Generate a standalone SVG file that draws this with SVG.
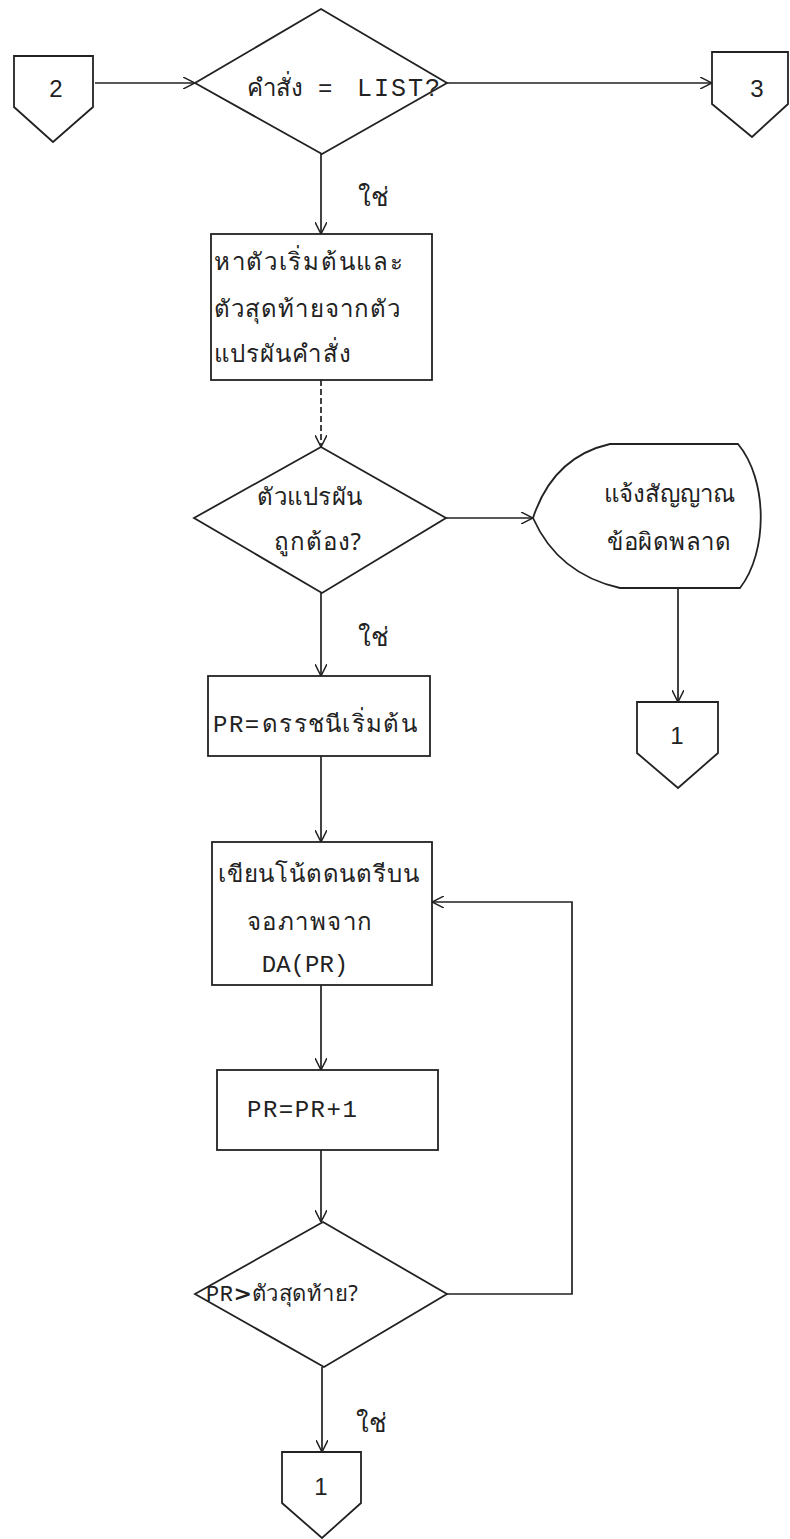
<svg xmlns="http://www.w3.org/2000/svg" width="790" height="1539" viewBox="0 0 790 1539">
<style>
.s{fill:none;stroke:#222;stroke-width:1.7}
.n{fill:#fff;stroke:#222;stroke-width:1.8}
.th{font-family:"Noto Sans","DejaVu Sans",sans-serif;font-size:24px;fill:#222;letter-spacing:1.3px}
.yes{font-family:"Noto Sans","DejaVu Sans",sans-serif;font-size:26px;fill:#222}
.mono{font-family:"Liberation Mono","DejaVu Sans Mono",monospace;font-size:24px;fill:#222;letter-spacing:1.5px}
.num{font-family:"Liberation Sans",Arial,sans-serif;font-size:24px;fill:#222}
</style>
<defs>
<marker id="ah" viewBox="0 0 12 12" refX="12" refY="6" markerWidth="12" markerHeight="12" markerUnits="userSpaceOnUse" orient="auto">
<path d="M0,0 L12,6 L0,12" fill="none" stroke="#222" stroke-width="1.5"/>
</marker>
</defs>
<rect width="790" height="1539" fill="#fff"/>
<g id="connectors">
<line class="s" x1="95" y1="83" x2="195" y2="83" marker-end="url(#ah)"/>
<line class="s" x1="447" y1="83" x2="712" y2="83" stroke-width="2.2" marker-end="url(#ah)"/>
<line class="s" x1="321" y1="154" x2="321" y2="234" marker-end="url(#ah)"/>
<line class="s" x1="321" y1="380" x2="321" y2="447" stroke-width="1.3" stroke-dasharray="6 3" marker-end="url(#ah)"/>
<line class="s" x1="446" y1="518" x2="533" y2="518" marker-end="url(#ah)"/>
<line class="s" x1="678" y1="588" x2="678" y2="702" stroke-width="2" marker-end="url(#ah)"/>
<line class="s" x1="321" y1="593" x2="321" y2="676" marker-end="url(#ah)"/>
<line class="s" x1="321" y1="756" x2="321" y2="842" marker-end="url(#ah)"/>
<line class="s" x1="321" y1="985" x2="321" y2="1070" marker-end="url(#ah)"/>
<line class="s" x1="321" y1="1150" x2="321" y2="1222" marker-end="url(#ah)"/>
<polyline class="s" points="447,1294 572,1294 572,902 432,902" marker-end="url(#ah)"/>
<line class="s" x1="322" y1="1367" x2="322" y2="1452" marker-end="url(#ah)"/>
<text class="yes" x="358" y="206">ใช่</text>
<text class="yes" x="358" y="646">ใช่</text>
<text class="yes" x="356" y="1432">ใช่</text>
</g>
<g id="c2">
<polygon class="n" points="14,56 93,56 93,107 53,142 14,107"/>
<text class="num" x="56" y="97" text-anchor="middle">2</text>
</g>
<g id="d1">
<polygon class="n" points="321,9 447,83 322,154 195,83"/>
<text class="th" x="247" y="96" style="letter-spacing:0">คำสั่ง</text>
<text class="mono" x="318" y="96">=</text>
<text class="mono" x="357" y="96" style="font-size:25px;letter-spacing:2px">LIST?</text>
</g>
<g id="c3">
<polygon class="n" points="712,52 788,52 788,104 752,137 712,104"/>
<text class="num" x="757" y="97" text-anchor="middle">3</text>
</g>
<g id="p1">
<rect class="n" x="211" y="234" width="221" height="146"/>
<text class="th" x="214" y="270" style="letter-spacing:1.7px">หาตัวเริ่มต้นและ</text>
<text class="th" x="214" y="317" style="letter-spacing:1.1px">ตัวสุดท้ายจากตัว</text>
<text class="th" x="214" y="362" style="letter-spacing:1.1px">แปรผันคำสั่ง</text>
</g>
<g id="d2">
<polygon class="n" points="321,447 446,518 322,593 194,518"/>
<text class="th" x="310" y="505" text-anchor="middle" style="letter-spacing:0.5px">ตัวแปรผัน</text>
<text class="th" x="318" y="550" text-anchor="middle" style="letter-spacing:0.8px">ถูกต้อง?</text>
</g>
<g id="disp">
<path class="n" d="M533,518 Q553,457 610,444 L738,444 C768,480 768,552 740,588 L620,588 Q558,574 533,518 Z"/>
<text class="th" x="669" y="502" text-anchor="middle" style="letter-spacing:0">แจ้งสัญญาณ</text>
<text class="th" x="669" y="550" text-anchor="middle" style="letter-spacing:0.5px">ข้อผิดพลาด</text>
</g>
<g id="c1a">
<polygon class="n" points="637,702 718,702 718,753 678,788 637,753"/>
<text class="num" x="677" y="744" text-anchor="middle">1</text>
</g>
<g id="p2">
<rect class="n" x="208" y="676" width="222" height="80"/>
<text class="mono" x="213" y="732">PR=</text>
<text class="th" x="262" y="732">ดรรชนีเริ่มต้น</text>
</g>
<g id="p3">
<rect class="n" x="212" y="842" width="220" height="143"/>
<text class="th" x="218" y="882" style="letter-spacing:0.8px">เขียนโน้ตดนตรีบน</text>
<text class="th" x="310" y="930" text-anchor="middle" style="letter-spacing:1.5px">จอภาพจาก</text>
<text class="mono" x="305" y="972" text-anchor="middle" style="letter-spacing:0">DA(PR)</text>
</g>
<g id="p4">
<rect class="n" x="217" y="1070" width="221" height="80"/>
<text class="mono" x="247" y="1117">PR=PR+1</text>
</g>
<g id="d3">
<polygon class="n" points="323,1222 447,1294 324,1367 195,1294"/>
<text x="206" y="1301"><tspan class="mono" style="font-size:22px;letter-spacing:0.5px">PR</tspan><tspan style="font-family:'DejaVu Sans',sans-serif;font-weight:bold;font-size:22px" fill="#222">&gt;</tspan><tspan class="th" style="font-size:22px;letter-spacing:0.5px">ตัวสุดท้าย?</tspan></text>
</g>
<g id="c1b">
<polygon class="n" points="282,1452 361,1452 361,1503 322,1538 282,1503"/>
<text class="num" x="321" y="1495" text-anchor="middle">1</text>
</g>
</svg>
